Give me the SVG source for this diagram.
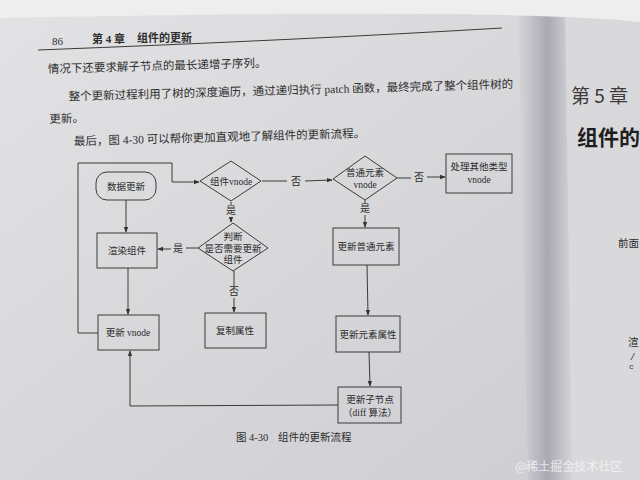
<svg xmlns="http://www.w3.org/2000/svg" width="640" height="480" viewBox="0 0 640 480">
<defs>
<linearGradient id="pageL" x1="0" y1="0" x2="1" y2="1">
<stop offset="0" stop-color="#e2e2e4"/>
<stop offset="1" stop-color="#cdcdd1"/>
</linearGradient>
<linearGradient id="gutter" x1="0" y1="0" x2="1" y2="0">
<stop offset="0" stop-color="#d6d6da"/>
<stop offset="0.55" stop-color="#a9a9b2"/>
<stop offset="1" stop-color="#d4d4d8"/>
</linearGradient>
<marker id="arr" viewBox="0 0 8 8" refX="7" refY="4" markerWidth="6" markerHeight="6" orient="auto" markerUnits="userSpaceOnUse">
<path d="M0,1 L8,4 L0,7 z" fill="#333"/>
</marker>
<style>
.body{font-family:"Liberation Serif","Noto Sans CJK SC",serif;font-size:11.5px;fill:#2e2e2e}
.node{fill:none;stroke:#3a3a3a;stroke-width:1}
.lbl{font-family:"Liberation Serif","Noto Sans CJK SC",serif;font-size:9.5px;fill:#2a2a2a;text-anchor:middle}
.edge{fill:none;stroke:#3a3a3a;stroke-width:1}
.yn{font-family:"Liberation Serif","Noto Sans CJK SC",serif;font-size:10px;fill:#2a2a2a;text-anchor:middle}
</style>
</defs>
<rect x="0" y="0" width="640" height="480" fill="url(#pageL)"/>
<path d="M522,0 L640,0 L640,480 L548,480 Z" fill="#d9d9dc"/>
<path d="M518,0 L565,0 L572,480 L528,480 Z" fill="url(#gutter)"/>
<path d="M0,0 L640,0 L640,22 Q520,8 0,18 Z" fill="#eeeeef"/>

<!-- header -->
<text x="52" y="45" class="body" style="font-size:11px">86</text>
<text x="92" y="43" class="body" style="font-size:11px;font-weight:bold">第 4 章</text>
<text x="137" y="42" class="body" style="font-size:11px;font-weight:bold">组件的更新</text>
<path d="M38,50 Q300,40 502,28" fill="none" stroke="#3a3a3a" stroke-width="1"/>

<!-- body text -->
<g transform="rotate(-1.6 48 72)">
<text x="48" y="73" class="body">情况下还要求解子节点的最长递增子序列。</text>
<text x="68" y="101" class="body">整个更新过程利用了树的深度遍历，通过递归执行 patch 函数，最终完成了整个组件树的</text>
<text x="48" y="123" class="body">更新。</text>
<text x="72" y="146" class="body">最后，图 4-30 可以帮你更加直观地了解组件的更新流程。</text>
</g>

<!-- right page -->
<text x="571" y="103" style="font-family:'Noto Sans CJK SC',sans-serif;font-size:19px;fill:#3a3a3a">第 5 章</text>
<text x="577" y="145" style="font-family:'Noto Sans CJK SC',sans-serif;font-size:21px;font-weight:bold;fill:#1e1e1e">组件的</text>
<text x="618" y="247" class="body" style="font-size:10.5px">前面</text>
<text x="628" y="346" class="body" style="font-size:10.5px">渲</text>
<text x="630" y="360" style="font-family:'Liberation Mono',monospace;font-size:9px;fill:#333">/</text>
<text x="629" y="369" style="font-family:'Liberation Mono',monospace;font-size:8px;fill:#333">c</text>

<!-- connectors -->
<g id="connectors">
<path class="edge" d="M98,333 L78,333 L78,163 L172,163 L172,182 L199,182" marker-end="url(#arr)"/>
<path class="edge" d="M126,200 L126,232" marker-end="url(#arr)"/>
<path class="edge" d="M128,268 L128,314" marker-end="url(#arr)"/>
<path class="edge" d="M262,181 L287,181 M305,181 L332,180" marker-end="url(#arr)"/>
<text x="296" y="185" class="yn">否</text>
<path class="edge" d="M397,178 L411,178 M427,177 L445,177" marker-end="url(#arr)"/>
<text x="419" y="181" class="yn">否</text>
<path class="edge" d="M231,202 L231,205 M231,217 L231,222" marker-end="url(#arr)"/>
<text x="231" y="214" class="yn">是</text>
<path class="edge" d="M198,248 L186,248 M171,249 L158,249" marker-end="url(#arr)"/>
<text x="178" y="252" class="yn">是</text>
<path class="edge" d="M234,271 L234,286 M234,298 L234,312" marker-end="url(#arr)"/>
<text x="234" y="295" class="yn">否</text>
<path class="edge" d="M365,200 L365,204 M365,215 L365,227" marker-end="url(#arr)"/>
<text x="365" y="212" class="yn">是</text>
<path class="edge" d="M367,265 L368,315" marker-end="url(#arr)"/>
<path class="edge" d="M369,352 L370,386" marker-end="url(#arr)"/>
<path class="edge" d="M338,405 L130,406 L130,351" marker-end="url(#arr)"/>
</g>

<!-- nodes -->
<g id="n-data">
<rect class="node" x="96" y="172" width="60" height="28" rx="11"/>
<text x="126" y="190" class="lbl">数据更新</text>
</g>
<g id="n-render">
<rect class="node" x="97" y="233" width="60" height="35"/>
<text x="127" y="254" class="lbl">渲染组件</text>
</g>
<g id="n-updvnode">
<rect class="node" x="98" y="315" width="61" height="35"/>
<text x="128" y="336" class="lbl">更新 vnode</text>
</g>
<g id="n-compvnode">
<polygon class="node" points="200,181 231,161 261,181 231,201"/>
<text x="231" y="185" class="lbl">组件vnode</text>
</g>
<g id="n-judge">
<polygon class="node" points="198,248 233,223 268,248 233,271"/>
<text x="233" y="240" class="lbl">判断</text>
<text x="233" y="252" class="lbl">是否需要更新</text>
<text x="233" y="263" class="lbl">组件</text>
</g>
<g id="n-copy">
<rect class="node" x="205" y="313" width="61" height="35"/>
<text x="235" y="334" class="lbl">复制属性</text>
</g>
<g id="n-elemvnode">
<polygon class="node" points="333,179 365,156 397,178 365,200"/>
<text x="365" y="176" class="lbl">普通元素</text>
<text x="365" y="188" class="lbl">vnode</text>
</g>
<g id="n-other">
<rect class="node" x="446" y="154" width="66" height="39"/>
<text x="479" y="170" class="lbl">处理其他类型</text>
<text x="479" y="183" class="lbl">vnode</text>
</g>
<g id="n-updelem">
<rect class="node" x="333" y="228" width="66" height="37"/>
<text x="366" y="250" class="lbl">更新普通元素</text>
</g>
<g id="n-attrs">
<rect class="node" x="336" y="316" width="64" height="36"/>
<text x="368" y="338" class="lbl">更新元素属性</text>
</g>
<g id="n-children">
<rect class="node" x="338" y="387" width="63" height="36"/>
<text x="370" y="403" class="lbl">更新子节点</text>
<text x="370" y="416" class="lbl">（diff 算法）</text>
</g>

<!-- caption -->
<text x="236" y="441" class="body" style="font-size:10.5px">图 4-30</text>
<text x="278" y="441" class="body" style="font-size:10.5px">组件的更新流程</text>

<!-- watermark -->
<text x="515" y="471" style="font-family:'Noto Sans CJK SC',sans-serif;font-size:12px;fill:#f4f4f6;fill-opacity:0.85">@稀土掘金技术社区</text>
</svg>
